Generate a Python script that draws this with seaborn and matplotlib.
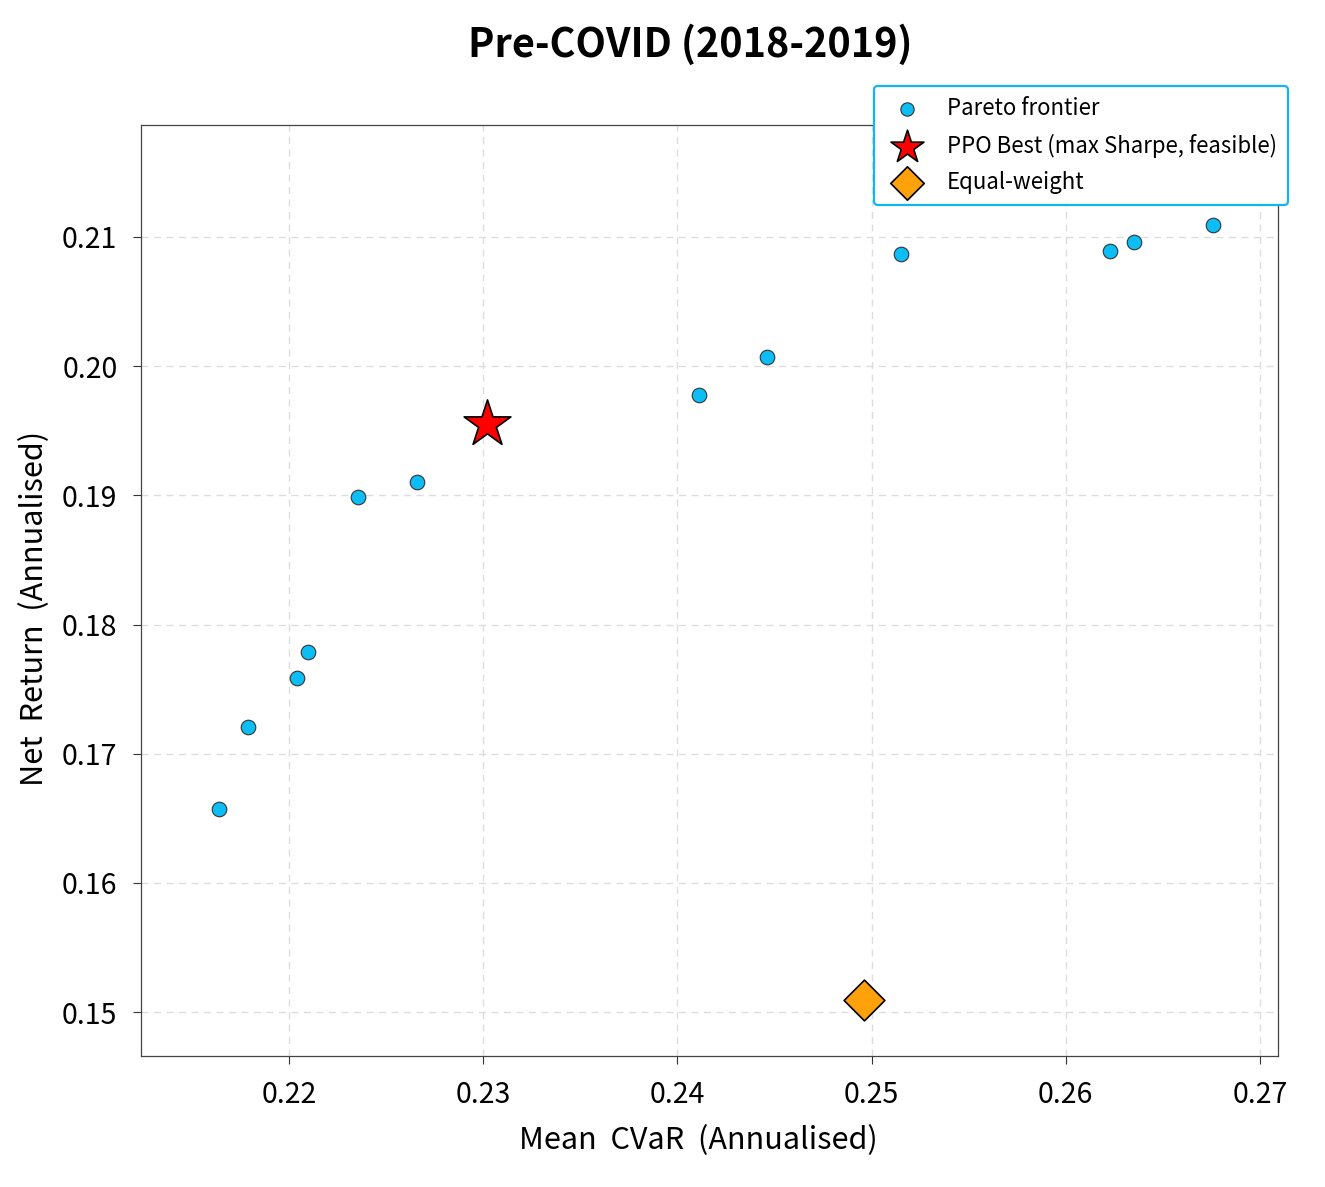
import numpy as np
import pandas as pd
import matplotlib
matplotlib.use("Agg")
import matplotlib.pyplot as plt
import seaborn as sns

# Data
pareto_cvar = [0.2164, 0.2179, 0.2204, 0.2210, 0.22355, 0.2266, 0.2411, 0.24463, 0.2515, 0.2623, 0.2635, 0.26757]
pareto_ret = [0.1657, 0.1721, 0.1759, 0.1779, 0.1899, 0.1910, 0.1978, 0.2007, 0.2087, 0.2089, 0.2096, 0.2109]
ppo_cvar = [0.2302]
ppo_ret = [0.1955]
ew_cvar = [0.2496]
ew_ret = [0.1509]
xticks = [0.22, 0.23, 0.24, 0.25, 0.26, 0.27]
yticks = [0.15, 0.16, 0.17, 0.18, 0.19, 0.20, 0.21]

sns.set_style("ticks")
plt.rcParams['font.family'] = ['Noto Sans CJK SC', 'DejaVu Sans']
plt.rcParams['text.color'] = 'black'
plt.rcParams['axes.labelcolor'] = 'black'

fig = plt.figure(figsize=(13.25, 11.87), dpi=100)
ax = fig.add_axes([141/1325, 1-1056/1187, (1278-141)/1325, (1056-125)/1187])

df_p = pd.DataFrame({"cvar": pareto_cvar, "ret": pareto_ret})
sns.scatterplot(data=df_p, x="cvar", y="ret", ax=ax, color="#0DBDF5", edgecolor="#333333",
                linewidth=0.8, s=110, marker="o", label="Pareto frontier", zorder=3)
sns.scatterplot(x=ppo_cvar, y=ppo_ret, ax=ax, color="red", edgecolor="black",
                linewidth=1.2, s=1250, marker="*", label="PPO Best (max Sharpe, feasible)", zorder=4)
sns.scatterplot(x=ew_cvar, y=ew_ret, ax=ax, color="#FFA10A", edgecolor="black",
                linewidth=1.2, s=430, marker="D", label="Equal-weight", zorder=4)

ax.set_xlim(0.21238, 0.27093)
ax.set_ylim(0.1466, 0.21867)
ax.set_xticks(xticks)
ax.set_yticks(yticks)
ax.set_xticklabels([f"{v:.2f}" for v in xticks])
ax.set_yticklabels([f"{v:.2f}" for v in yticks])
ax.tick_params(labelsize=20.5, length=6, width=0.8, pad=11, colors="#333333", labelcolor="black")
ax.grid(True, linestyle=(0, (5, 4)), color="#dddddd", linewidth=1)
ax.set_axisbelow(True)
for sp in ax.spines.values():
    sp.set_color("#444444")
    sp.set_linewidth(0.9)

ax.set_xlabel("Mean  CVaR  (Annualised)", fontsize=22, labelpad=10)
ax.set_ylabel("Net  Return  (Annualised)", fontsize=22, labelpad=14)
ax.xaxis.set_label_coords((698-141)/1137, -0.074)
ax.yaxis.set_label_coords(-(141-50)/1137, 1-(608-125)/931)

fig.text(690/1325, 1-45/1187, "Pre-COVID (2018-2019)", ha="center", va="center",
         fontsize=28.5, fontweight="bold")

leg = ax.legend(loc="upper right", bbox_to_anchor=(1288/1325, 1-86/1187),
                bbox_transform=fig.transFigure, borderaxespad=0, fontsize=16.0, frameon=True,
                fancybox=True, borderpad=0.5, labelspacing=0.6, handletextpad=0.8)
leg.get_frame().set_edgecolor("#12B5F2")
leg.get_frame().set_linewidth(1.6)
leg.get_frame().set_alpha(1)
hs = leg.legend_handles
hs[0].set_sizes([92])
hs[1].set_sizes([620])
hs[2].set_sizes([290])

fig.savefig("out.png", dpi=100)
